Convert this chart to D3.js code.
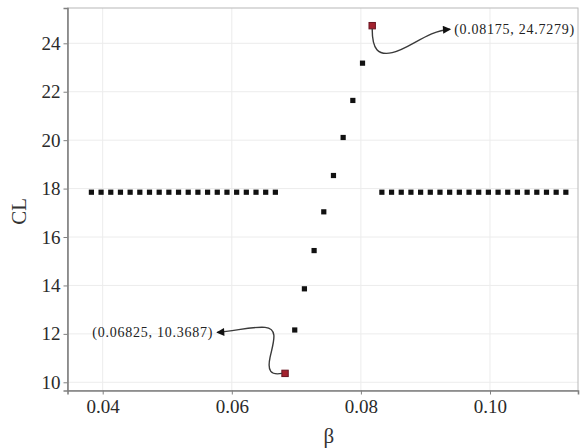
<!DOCTYPE html>
<html>
<head>
<meta charset="utf-8">
<script src="https://cdn.jsdelivr.net/npm/d3@7"></script>
<style>
  body { margin: 0; background: #fff; }
  svg text { font-family: "Liberation Serif", "Times New Roman", "DejaVu Serif", serif; }
</style>
</head>
<body>
<div id="chart"></div>
<script>
// Data
const betaLeft = [0.03825, 0.03975, 0.04125, 0.04275, 0.04425, 0.04575, 0.04725, 0.04875, 0.05025, 0.05175,
  0.05325, 0.05475, 0.05625, 0.05775, 0.05925, 0.06075, 0.06225, 0.06375, 0.06525, 0.06675];
const betaRise = [0.06825, 0.06975, 0.07125, 0.07275, 0.07425, 0.07575, 0.07725, 0.07875, 0.08025, 0.08175];
const clRise = [10.3687, 12.16, 13.86, 15.44, 17.04, 18.54, 20.11, 21.64, 23.18, 24.7279];
const betaRight = [0.08325, 0.08475, 0.08625, 0.08775, 0.08925, 0.09075, 0.09225, 0.09375, 0.09525, 0.09675,
  0.09825, 0.09975, 0.10125, 0.10275, 0.10425, 0.10575, 0.10725, 0.10875, 0.11025, 0.11175];
const clFlat = 17.85;
const xTicks = [0.04, 0.06, 0.08, 0.10];
const yTicks = [10, 12, 14, 16, 18, 20, 22, 24];
const labelLow = "(0.06825, 10.3687)";
const labelHigh = "(0.08175, 24.7279)";

function drawChart() {
  const W = 582, H = 448;
  const left = 67.5, right = 578, top = 8, bottom = 390.5;

  const svg = d3.select("#chart").append("svg")
    .attr("width", W)
    .attr("height", H);

  const x = d3.scaleLinear().domain([0.034547, 0.113633]).range([left, right]);
  const y = d3.scaleLinear().domain([9.661, 25.458]).range([bottom, top]);

  // grid
  svg.append("g").selectAll("line").data(xTicks).enter().append("line")
    .attr("x1", d => x(d)).attr("x2", d => x(d))
    .attr("y1", top).attr("y2", bottom)
    .attr("stroke", "#ececec").attr("stroke-width", 1);
  svg.append("g").selectAll("line").data(yTicks).enter().append("line")
    .attr("x1", left).attr("x2", right)
    .attr("y1", d => y(d)).attr("y2", d => y(d))
    .attr("stroke", "#ececec").attr("stroke-width", 1);

  // panel border
  svg.append("rect")
    .attr("x", left).attr("y", top)
    .attr("width", right - left).attr("height", bottom - top)
    .attr("fill", "none").attr("stroke", "#b8b8b8").attr("stroke-width", 1);

  // axes
  const xAxis = svg.append("g")
    .attr("transform", `translate(0,${bottom})`)
    .call(d3.axisBottom(x).tickValues(xTicks).tickFormat(d3.format(".2f")).tickSizeOuter(0).tickSize(4).tickPadding(5));
  const yAxis = svg.append("g")
    .attr("transform", `translate(${left},0)`)
    .call(d3.axisLeft(y).tickValues(yTicks).tickSizeOuter(0).tickSize(4).tickPadding(3));
  [xAxis, yAxis].forEach(a => {
    a.attr("font-family", null);
    a.select(".domain").attr("stroke", "#808080").attr("stroke-width", 1.6);
    a.selectAll(".tick line").attr("stroke", "#808080");
    a.selectAll(".tick text")
      .attr("font-size", 19).attr("fill", "#2a2a2a");
  });

  // axis titles
  svg.append("text")
    .attr("x", (left + right) / 2 + 6).attr("y", 443)
    .attr("text-anchor", "middle")
    .attr("font-size", 21).attr("fill", "#333")
    .text("β");
  svg.append("text")
    .attr("transform", `translate(26,${(top + bottom) / 2 + 12}) rotate(-90)`)
    .attr("text-anchor", "middle")
    .attr("font-size", 21).attr("fill", "#333")
    .text("CL");

  // points
  const s = 5.2;
  const pts = svg.append("g");
  const flat = betaLeft.concat(betaRight);
  pts.selectAll(".flat").data(flat).enter().append("rect")
    .attr("x", d => x(d) - s / 2).attr("y", y(clFlat) - s / 2)
    .attr("width", s).attr("height", s).attr("fill", "#111");
  const rise = betaRise.map((b, i) => ({ b, c: clRise[i] }));
  const mid = rise.slice(1, rise.length - 1);
  pts.selectAll(".rise").data(mid).enter().append("rect")
    .attr("x", d => x(d.b) - s / 2).attr("y", d => y(d.c) - s / 2)
    .attr("width", s).attr("height", s).attr("fill", "#111");

  // arrows
  const defs = svg.append("defs");
  defs.append("marker")
    .attr("id", "arr")
    .attr("viewBox", "0 0 10 10")
    .attr("refX", 9).attr("refY", 5)
    .attr("markerWidth", 10).attr("markerHeight", 8)
    .attr("markerUnits", "userSpaceOnUse")
    .attr("orient", "auto")
    .append("path").attr("d", "M0,0 L10,5 L0,10 Z").attr("fill", "#111");

  const lo = rise[0], hi = rise[rise.length - 1];
  const lx = x(lo.b), ly = y(lo.c);
  const hx = x(hi.b), hy = y(hi.c);

  // upper annotation curve
  const pHi = d3.path();
  pHi.moveTo(hx, hy + 3);
  pHi.bezierCurveTo(hx, hy + 24, hx + 6, hy + 30, hx + 20, hy + 27);
  pHi.bezierCurveTo(hx + 38, hy + 23, hx + 55, hy + 5, hx + 78, hy + 3.5);
  svg.append("path").attr("d", pHi.toString())
    .attr("fill", "none").attr("stroke", "#3a3a3a").attr("stroke-width", 1.4)
    .attr("marker-end", "url(#arr)");
  svg.append("text")
    .attr("x", hx + 82).attr("y", hy + 8.5)
    .attr("font-size", 14).attr("letter-spacing", 0.75).attr("fill", "#222")
    .text(labelHigh);

  // lower annotation curve
  const pLo = d3.path();
  pLo.moveTo(lx - 3, ly);
  pLo.bezierCurveTo(lx - 14, ly + 2, lx - 18, ly - 2, lx - 15, ly - 16);
  pLo.bezierCurveTo(lx - 12, ly - 30, lx - 6, ly - 45, lx - 20, ly - 46);
  pLo.bezierCurveTo(lx - 35, ly - 47, lx - 50, ly - 42, lx - 68, ly - 41);
  svg.append("path").attr("d", pLo.toString())
    .attr("fill", "none").attr("stroke", "#3a3a3a").attr("stroke-width", 1.4)
    .attr("marker-end", "url(#arr)");
  svg.append("text")
    .attr("x", lx - 72).attr("y", ly - 36)
    .attr("text-anchor", "end")
    .attr("font-size", 14).attr("letter-spacing", 0.75).attr("fill", "#222")
    .text(labelLow);

  // highlighted end points
  const r = 6.4;
  pts.selectAll(".hl").data([lo, hi]).enter().append("rect")
    .attr("x", d => x(d.b) - r / 2).attr("y", d => y(d.c) - r / 2)
    .attr("width", r).attr("height", r)
    .attr("fill", "#a3222f").attr("stroke", "#6a1522").attr("stroke-width", 1);
}

document.addEventListener('DOMContentLoaded', drawChart);
</script>
</body>
</html>
